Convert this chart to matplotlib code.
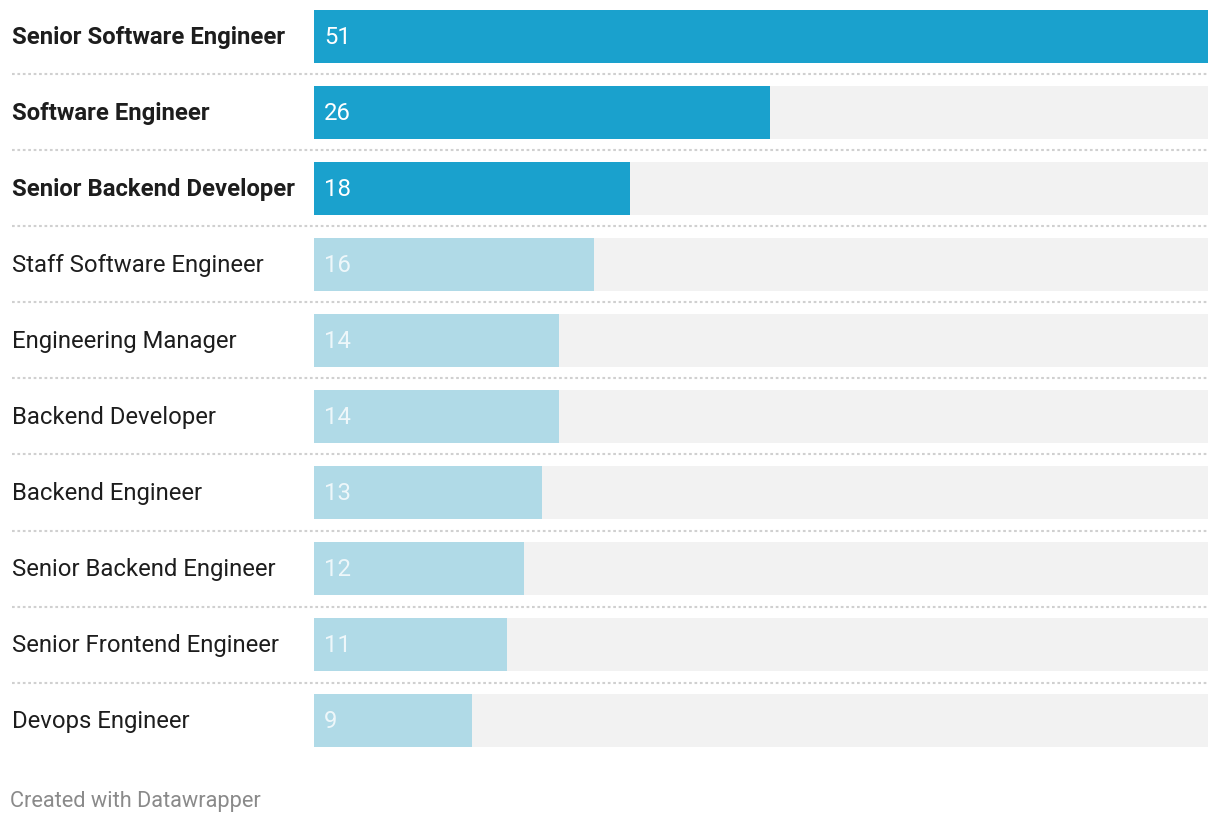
import matplotlib
matplotlib.use("Agg")
import matplotlib.pyplot as plt
from matplotlib import transforms

categories = ["Senior Software Engineer", "Software Engineer", "Senior Backend Developer",
              "Staff Software Engineer", "Engineering Manager", "Backend Developer",
              "Backend Engineer", "Senior Backend Engineer", "Senior Frontend Engineer",
              "Devops Engineer"]
values = [51, 26, 18, 16, 14, 14, 13, 12, 11, 9]
highlighted = [True, True, True, False, False, False, False, False, False, False]

W, H = 1220, 824
fig = plt.figure(figsize=(W/100, H/100), dpi=100)
plt.rcParams['font.family'] = ['Roboto', 'DejaVu Sans']

ax = fig.add_axes([314/W, (H-758.5)/H, 894/W, 760/H])
xmax = max(values)
ax.set_xlim(0, xmax)
ax.set_ylim(len(values)-0.5, -0.5)
ax.axis('off')

bh = 53/76
n = len(values)
ypos = list(range(n))
ax.barh(ypos, [xmax]*n, height=bh, color='#f2f2f2', zorder=1)
cols = ['#1aa1cd' if h else '#b0dae7' for h in highlighted]
ax.barh(ypos, values, height=bh, color=cols, zorder=2)

off = transforms.offset_copy(ax.transData, fig, x=10, y=-1, units='dots')
for i, (v, h) in enumerate(zip(values, highlighted)):
    ax.text(0, i, str(v), transform=off, va='center', ha='left',
            color='white' if h else '#eef7fa', fontsize=17.2, zorder=3)

bt = transforms.blended_transform_factory(fig.transFigure, ax.transData)
bt_off = bt + transforms.ScaledTranslation(0, -1/100, fig.dpi_scale_trans)
for i, (c, h) in enumerate(zip(categories, highlighted)):
    ax.text(12/W, i, c, transform=bt_off, va='center', ha='left', color='#1d1d1d',
            fontsize=17.2, fontweight='bold' if h else 'normal')

for i in range(n-1):
    ax.plot([12/W, 1208/W], [i+0.5, i+0.5], transform=bt, color='#d0d0d0',
            lw=1.5, ls=(0, (1.3, 1.3)), clip_on=False, zorder=0)

fig.text(10/W, 1-801/H, "Created with Datawrapper", va='center', ha='left',
         color='#8a8a8a', fontsize=15.7)

fig.savefig("out.png", dpi=100, facecolor='white')
